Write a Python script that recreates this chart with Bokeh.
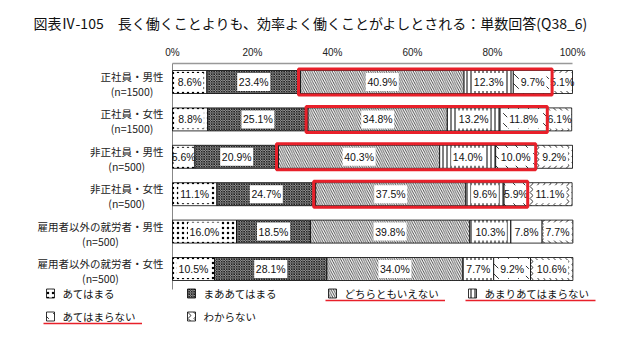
from bokeh.plotting import figure
from bokeh.models import Range1d, Label
from bokeh.core.properties import value
from bokeh.embed import file_html
from bokeh.resources import INLINE

# ---------------- data ----------------
title_text = "図表Ⅳ-105　長く働くことよりも、効率よく働くことがよしとされる：単数回答(Q38_6)"
groups = ["正社員・男性", "正社員・女性", "非正社員・男性", "非正社員・女性",
          "雇用者以外の就労者・男性", "雇用者以外の就労者・女性"]
sizes = ["(n=1500)", "(n=1500)", "(n=500)", "(n=500)", "(n=500)", "(n=500)"]
answers = ["あてはまる", "まああてはまる", "どちらともいえない", "あまりあてはまらない",
           "あてはまらない", "わからない"]
v_atehamaru = [8.6, 8.8, 5.6, 11.1, 16.0, 10.5]
v_maa = [23.4, 25.1, 20.9, 24.7, 18.5, 28.1]
v_dochira = [40.9, 34.8, 40.3, 37.5, 39.8, 34.0]
v_amari = [12.3, 13.2, 14.0, 9.6, 10.3, 7.7]
v_atehamaranai = [9.7, 11.8, 10.0, 5.9, 7.8, 9.2]
v_wakaranai = [5.1, 6.1, 9.2, 11.1, 7.7, 10.6]
series = [v_atehamaru, v_maa, v_dochira, v_amari, v_atehamaranai, v_wakaranai]
ticks = [0, 20, 40, 60, 80, 100]
tick_labels = ["0%", "20%", "40%", "60%", "80%", "100%"]
highlight_rows = [0, 1, 2, 3]          # rows boxed in red (segments 3..5)
highlight_legend = [2, 3, 4]           # legend entries underlined in red

# ---------------- layout helpers ----------------
W, H = 624, 352
X0, PXPCT = 172.0, 4.0      # pixel of 0 %, pixels per percent
Y0, ROWPX = 81.5, 37.4      # pixel of first row centre, pixels per row
def xd(px): return (px - X0) / PXPCT
def yd(py): return (py - Y0) / ROWPX

JP = value("Noto Sans CJK JP")
NUM = value("'Liberation Sans Narrow', 'Liberation Sans', sans-serif")

p = figure(width=W, height=H, output_backend="svg", toolbar_location=None,
           x_range=Range1d(xd(0), xd(W)), y_range=Range1d(yd(H), yd(0)),
           x_axis_location=None, y_axis_location=None, min_border=0,
           outline_line_color=None, background_fill_color="white",
           border_fill_color="white")
p.grid.visible = False

styles = [
    dict(hatch_pattern=".", hatch_scale=5, hatch_weight=0.4, fill_color="white"),
    dict(hatch_pattern="x", hatch_scale=2.5, hatch_weight=0.7, fill_color="#9a9a9a"),
    dict(hatch_pattern="\\", hatch_scale=4.5, hatch_weight=0.7, fill_color="white"),
    dict(hatch_pattern="|", hatch_scale=4, hatch_weight=1.0, fill_color="white"),
    dict(hatch_pattern="`", hatch_scale=10, hatch_weight=0.8, fill_color="white"),
    dict(hatch_pattern=">", hatch_scale=6, hatch_weight=0.8, fill_color="white"),
]

rows = list(range(len(groups)))
bar_h = 23 / ROWPX

# top line and left axis line
p.segment(x0=[ticks[0]], x1=[ticks[-1]], y0=[yd(63)], y1=[yd(63)],
          line_color="#999999", line_width=1.5)
p.segment(x0=[0], x1=[0], y0=[yd(63)], y1=[yd(289)], line_color="#888888", line_width=1)

# tick labels
p.text(x=ticks, y=[yd(52)] * len(ticks), text=tick_labels, text_align="center",
       text_baseline="middle", text_font=NUM, text_font_size="10px", text_color="#222222")

# stacked bars
cum = [0.0] * len(groups)
starts_all = []
for k, vals in enumerate(series):
    lefts = cum[:]
    rights = [c + v for c, v in zip(cum, vals)]
    starts_all.append(lefts)
    p.hbar(y=rows, left=lefts, right=rights, height=bar_h, line_color="black",
           line_width=0.8, hatch_color="black", **styles[k])
    cum = rights
starts_all.append(cum)

# value labels with white boxes
for k, vals in enumerate(series):
    cx = [s + v / 2 for s, v in zip(starts_all[k], vals)]
    labels = [f"{v:.1f}%" for v in vals]
    widths = [min(len(t) * 5.4 + 6, v * PXPCT - 2) for t, v in zip(labels, vals)]
    p.rect(x=cx, y=rows, width=widths, height=18, width_units="screen",
           height_units="screen", fill_color="white", line_color=None)
    p.text(x=cx, y=rows, text=labels, text_align="center", text_baseline="middle",
           text_font=NUM, text_font_size="10.5px", text_color="#111111")

# red highlight boxes (segments 3..5)
pad = 13 / ROWPX
p.quad(left=[starts_all[2][r] - 0.5 for r in highlight_rows],
       right=[starts_all[5][r] for r in highlight_rows],
       top=[r - pad for r in highlight_rows], bottom=[r + pad for r in highlight_rows],
       fill_color=None, line_color="#e8202a", line_width=3)

# category labels (two lines, centred on each other, block right aligned)
FS = 10.5
right_px = 163
centers = [xd(right_px - len(g) * FS / 2) for g in groups]
p.text(x=centers, y=[r + yd(Y0 - 5.5) for r in rows], text=groups, text_align="center",
       text_baseline="middle", text_font=JP, text_font_size=f"{FS}px", text_color="#222222")
p.text(x=centers, y=[r + yd(Y0 + 9.5) for r in rows], text=sizes, text_align="center",
       text_baseline="middle", text_font=JP, text_font_size=f"{FS}px", text_color="#222222")

# title
p.add_layout(Label(x=33, y=H - 22, x_units="screen", y_units="screen", text=title_text,
                   text_font="Noto Sans CJK JP", text_font_size="14px",
                   text_baseline="middle", text_color="#111111"))

# legend (manual)
leg_x = [46, 187, 328, 468, 46, 187]
leg_y = [293, 293, 293, 293, 316, 316]
for k, name in enumerate(answers):
    bx, by = leg_x[k], leg_y[k]
    p.quad(left=[xd(bx)], right=[xd(bx + 8)], top=[yd(by - 4.5)], bottom=[yd(by + 4.5)],
           line_color="black", line_width=0.8, hatch_color="black", **styles[k])
    p.text(x=[xd(bx + 16)], y=[yd(by)], text=[name], text_align="left",
           text_baseline="middle", text_font=JP, text_font_size="10.5px", text_color="#111111")
for k in highlight_legend:
    bx, by = leg_x[k], leg_y[k]
    tw = len(answers[k]) * 10.5
    p.segment(x0=[xd(bx - 3)], x1=[xd(bx + 16 + tw + 6)], y0=[yd(by + 7)], y1=[yd(by + 7)],
              line_color="#e8202a", line_width=1.5)

open("out.html", "w").write(file_html(p, INLINE))
